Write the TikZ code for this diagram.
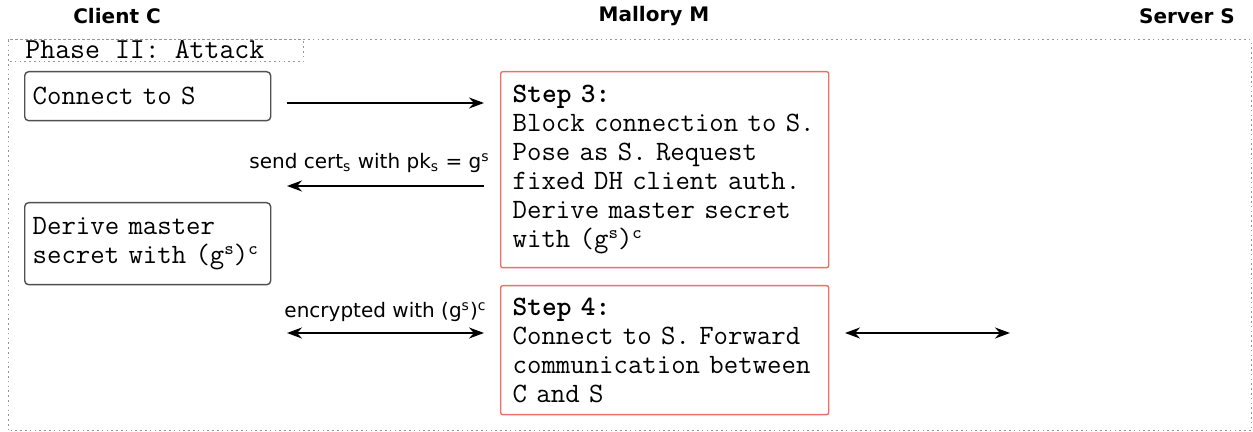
\documentclass[tikz,border=0pt]{standalone}
\usepackage{fontspec}
\setmainfont{DejaVu Sans}
\usetikzlibrary{arrows.meta,positioning,calc}
\definecolor{stepred}{RGB}{238,110,108}
\definecolor{boxgray}{RGB}{80,80,80}
\definecolor{framegray}{RGB}{150,150,150}
\newcommand{\smallsup}[1]{\raisebox{0.32em}{\fontsize{9}{9}\selectfont #1}}

\begin{document}
\begin{tikzpicture}[
  x=0.5pt, y=-0.5pt,
  party/.style={font=\bfseries\fontsize{10}{12}\selectfont},
  client/.style={draw=boxgray, line width=0.7pt, rounded corners=2pt, align=left, anchor=north west,
    text width=115pt, inner xsep=4pt, font=\ttfamily\fontsize{14}{14.5}\selectfont},
  stepbox/.style={draw=stepred, line width=0.7pt, rounded corners=1pt, align=left, anchor=north west,
    text width=152pt, inner xsep=6pt, font=\ttfamily\fontsize{14}{14.5}\selectfont},
  msg/.style={font=\fontsize{10}{12}\selectfont, inner sep=1pt},
  frame/.style={draw=framegray, line width=0.5pt, dash pattern=on 0.8pt off 1.6pt},
  arr/.style={-{Stealth[length=7.5pt,width=5.5pt]}, line width=0.85pt},
  darr/.style={{Stealth[length=7.5pt,width=5.5pt]}-{Stealth[length=7.5pt,width=5.5pt]}, line width=0.85pt}
]
\useasboundingbox (0,0) rectangle (1253,432);

% parties
\node[party] (cli) at (117,16) {Client C};
\node[party] (mal) at (654,16) {Mallory M};
\node[party] (srv) at (1187,16) {Server S};

% phase frame
\draw[frame] (8,40) rectangle (1251,431);
\draw[frame] (8,40) rectangle (303,62);
\node[anchor=west, inner sep=0pt, font=\ttfamily\fontsize{14.5}{14.5}\selectfont] (phase) at (25,50) {Phase II: Attack};

% boxes
\node[client, minimum height=24.5pt] (conn) at (24,71) {Connect to S};
\node[client, minimum height=41pt] (derive) at (24,202) {Derive master\\secret with (g\smallsup{s})\smallsup{c}};
\node[stepbox, minimum height=98pt] (step3) at (500,71) {\textbf{Step 3:}\\Block connection to S.\\Pose as S. Request\\fixed DH client auth.\\Derive master secret\\with (g\smallsup{s})\smallsup{c}};
\node[stepbox, minimum height=64.5pt] (step4) at (500,285) {\textbf{Step 4:}\\Connect to S. Forward\\communication between\\C and S};

% arrow ends
\coordinate (m1l) at (287,103);
\coordinate (m1r) at (484,103);
\coordinate (m2l) at (287,186);
\coordinate (m2r) at (484,186);
\coordinate (m3l) at (287,333);
\coordinate (m3r) at (484,333);
\coordinate (m4l) at (845,333);
\coordinate (m4r) at (1010,333);

\draw[arr] (m1l) -- (m1r);
\draw[arr] (m2r) -- node[msg, above=5pt, xshift=-8pt] (lab2) {send cert\textsubscript{s} with pk\textsubscript{s} = g\textsuperscript{s}} (m2l);
\draw[darr] (m3l) -- node[msg, above=4pt] (lab3) {encrypted with (g\textsuperscript{s})\textsuperscript{c}} (m3r);
\draw[darr] (m4l) -- (m4r);
\end{tikzpicture}
\end{document}
